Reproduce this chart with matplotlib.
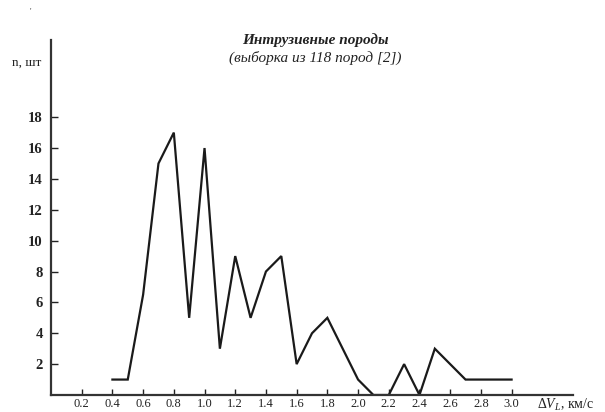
import matplotlib
matplotlib.use("Agg")
import matplotlib.pyplot as plt

plt.rcParams['font.family'] = ['Liberation Serif', 'DejaVu Serif']
plt.rcParams['mathtext.fontset'] = 'custom'
plt.rcParams['mathtext.rm'] = 'Liberation Serif'
plt.rcParams['mathtext.it'] = 'Liberation Serif:italic'

dv = [0.4, 0.5, 0.6, 0.7, 0.8, 0.9, 1.0, 1.1, 1.2, 1.3, 1.4, 1.5, 1.6, 1.7,
      1.8, 2.0, 2.1, 2.2, 2.3, 2.4, 2.5, 2.7, 3.0]
n = [1, 1, 6.5, 15, 17, 5, 16, 3, 9, 5, 8, 9, 2, 4,
     5, 1, 0, 0, 2, 0, 3, 1, 1]
xticks = [0.2, 0.4, 0.6, 0.8, 1.0, 1.2, 1.4, 1.6, 1.8, 2.0, 2.2, 2.4, 2.6, 2.8, 3.0]
yticks = [2, 4, 6, 8, 10, 12, 14, 16, 18]

fig = plt.figure(figsize=(6.05, 4.12), dpi=100)
ax = fig.add_axes([51/605, 1 - 395/412, (573-51)/605, (395-40)/412])
ax.plot(dv, n, color='#1a1a1a', lw=1.6, solid_joinstyle='miter')
ax.set_xlim(0, 3.40)
ax.set_ylim(0, 23.0)
for s in ['top', 'right']:
    ax.spines[s].set_visible(False)
for s in ['left', 'bottom']:
    ax.spines[s].set_linewidth(1.6)
    ax.spines[s].set_color('#333333')
ax.set_xticks(xticks)
ax.set_xticklabels([f"{v:.1f}" for v in xticks], fontsize=9, color='#222222')
ax.set_yticks(yticks)
ax.set_yticklabels([str(v) for v in yticks], fontsize=10.5, fontweight='bold', color='#222222')
ax.tick_params(axis='x', direction='in', length=4, width=1, pad=2, colors='#222222')
ax.tick_params(axis='y', direction='in', length=5, width=1, pad=6, colors='#222222')

fig.text(30/605, 1 - 12/412, "'", fontsize=6, ha='center', va='center', color='#444444')
fig.text(12/605, 1 - 63/412, 'n, шт', fontsize=9.5, va='center', ha='left', color='#222222')
fig.text(537/605, 1 - 405/412, r'$\Delta V_{L}$, км/с', fontsize=10, va='center', ha='left', color='#222222')
fig.text(315/605, 1 - 40/412, 'Интрузивные породы', fontsize=11, fontweight='bold', style='italic', ha='center', va='center', color='#222222')
fig.text(315/605, 1 - 58/412, '(выборка из 118 пород [2])', fontsize=11, style='italic', ha='center', va='center', color='#222222')

fig.savefig('out.png', dpi=100)
